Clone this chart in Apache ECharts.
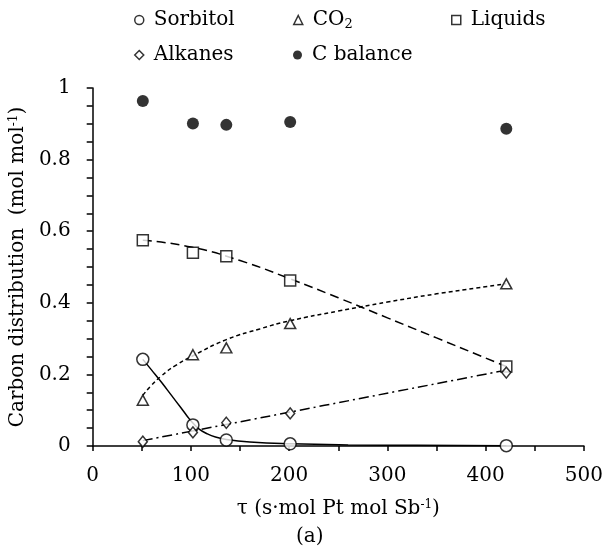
<!DOCTYPE html>
<html>
<head>
<meta charset="utf-8">
<script src="https://cdn.jsdelivr.net/npm/echarts@6/dist/echarts.min.js"></script>
<style>
  html, body { margin: 0; padding: 0; background: #fff; }
  #chart { width: 606px; height: 558px; }
</style>
</head>
<body>
<div id="chart"></div>
<script>
// Residence time (s·mol Pt / mol Sb) of the measured points
const tauValues = [51, 102, 136, 201, 421];

// Carbon distribution (mol/mol) per product group
const sorbitol = [0.242, 0.059, 0.017, 0.006, 0.001];
const co2      = [0.128, 0.255, 0.274, 0.342, 0.453];
const liquids  = [0.575, 0.540, 0.530, 0.462, 0.222];
const alkanes  = [0.012, 0.038, 0.065, 0.091, 0.205];
const cBalance = [0.964, 0.901, 0.897, 0.905, 0.886];

// Trend curves drawn through the points
const sorbitolTrendTau = [51, 60, 70, 80, 90, 96, 102, 108, 116, 125, 136, 160, 201, 260, 330, 421];
const sorbitolTrend    = [0.242, 0.212, 0.178, 0.142, 0.106, 0.084, 0.064, 0.048, 0.035, 0.025, 0.018, 0.011, 0.006, 0.003, 0.002, 0.001];
const liquidsTrendTau  = [51, 100, 150, 200, 250, 300, 350, 421];
const liquidsTrend     = [0.575, 0.556, 0.518, 0.468, 0.414, 0.358, 0.302, 0.222];
const co2TrendTau      = [51, 60, 70, 85, 102, 136, 170, 201, 250, 300, 350, 421];
const co2Trend         = [0.142, 0.170, 0.196, 0.226, 0.252, 0.297, 0.327, 0.350, 0.377, 0.402, 0.425, 0.453];
const alkanesTrendTau  = [51, 421];
const alkanesTrend     = [0.015, 0.212];

// Axis ticks
const xTicks = { min: 0, max: 500, step: 100 };
const yTicks = { min: 0, max: 1, step: 0.2 };

const FONT = 'DejaVu Serif';
const INK = '#000';

const pairs = (xs, ys) => xs.map((x, i) => [x, ys[i]]);

const openMarker = { color: '#fff', borderColor: INK, borderWidth: 1.5 };

function pointSeries(name, ys, symbol, size, style) {
  return {
    name: name,
    type: 'scatter',
    data: pairs(tauValues, ys),
    symbol: symbol,
    symbolSize: size,
    itemStyle: style,
    z: 5,
    emphasis: { disabled: true }
  };
}

function trendSeries(name, xs, ys, dash) {
  return {
    name: name,
    type: 'line',
    data: pairs(xs, ys),
    smooth: true,
    showSymbol: false,
    symbol: 'none',
    lineStyle: { color: INK, width: 1.5, type: dash },
    z: 2,
    emphasis: { disabled: true }
  };
}

function legendAt(name, icon, style, left, top) {
  return {
    left: left,
    top: top,
    orient: 'horizontal',
    selectedMode: false,
    itemWidth: 9,
    itemHeight: 9,
    data: [{ name: name, icon: icon, itemStyle: style }],
    formatter: n => n === 'CO2' ? '{n|CO}{s|2}' : n,
    textStyle: {
      fontFamily: FONT,
      fontSize: 20,
      color: INK,
      padding: [0, 0, 0, 5],
      rich: {
        n: { fontFamily: FONT, fontSize: 20, color: INK },
        s: { fontFamily: FONT, fontSize: 13, color: INK, padding: [9, 0, 0, 0] }
      }
    }
  };
}

const chart = echarts.init(document.getElementById('chart'), null, { renderer: 'canvas' });

chart.setOption({
  animation: false,
  backgroundColor: '#fff',
  grid: { left: 92, right: 22, top: 88, bottom: 112, containLabel: false },
  title: {
    text: '(a)',
    left: 291,
    top: 522,
    textStyle: { fontFamily: FONT, fontSize: 20, fontWeight: 'normal', color: INK }
  },
  legend: [
    legendAt('Sorbitol', 'circle', { color: '#fff', borderColor: INK, borderWidth: 1.5 }, 129, 5),
    legendAt('CO2', 'triangle', { color: '#fff', borderColor: INK, borderWidth: 1.5 }, 288, 5),
    legendAt('Liquids', 'rect', { color: '#fff', borderColor: INK, borderWidth: 1.5 }, 446, 5),
    legendAt('Alkanes', 'diamond', { color: '#fff', borderColor: INK, borderWidth: 1.5 }, 129, 40),
    legendAt('C balance', 'circle', { color: INK, borderWidth: 0 }, 288, 40)
  ],
  xAxis: {
    type: 'value',
    min: xTicks.min,
    max: xTicks.max,
    interval: xTicks.step,
    name: 'τ (s·mol Pt mol Sb{sup|-1})',
    nameLocation: 'middle',
    nameGap: 53,
    nameTextStyle: {
      fontFamily: FONT, fontSize: 20, color: INK,
      rich: { sup: { fontFamily: FONT, fontSize: 12, color: INK, verticalAlign: 'top' } }
    },
    axisLine: { show: true, onZero: false, lineStyle: { color: INK, width: 1.5 } },
    axisTick: { show: true, inside: false, length: 5, lineStyle: { color: INK, width: 1.5 } },
    minorTick: { show: true, splitNumber: 2, length: 5, lineStyle: { color: INK, width: 1.5 } },
    splitLine: { show: false },
    axisLabel: { fontFamily: FONT, fontSize: 20, color: INK, margin: 20 }
  },
  yAxis: {
    type: 'value',
    min: yTicks.min,
    max: yTicks.max,
    interval: yTicks.step,
    name: 'Carbon distribution  (mol mol{sup|-1})',
    nameLocation: 'middle',
    nameGap: 57,
    nameTextStyle: {
      fontFamily: FONT, fontSize: 20, color: INK,
      rich: { sup: { fontFamily: FONT, fontSize: 12, color: INK, verticalAlign: 'top' } }
    },
    axisLine: { show: true, onZero: false, lineStyle: { color: INK, width: 1.5 } },
    axisTick: { show: true, inside: false, length: 6, lineStyle: { color: INK, width: 1.5 } },
    minorTick: { show: true, splitNumber: 4, length: 6, lineStyle: { color: INK, width: 1.5 } },
    splitLine: { show: false },
    axisLabel: { fontFamily: FONT, fontSize: 20, color: INK, margin: 22 }
  },
  series: [
    trendSeries('Sorbitol trend', sorbitolTrendTau, sorbitolTrend, 'solid'),
    trendSeries('Liquids trend', liquidsTrendTau, liquidsTrend, [9, 5]),
    trendSeries('CO2 trend', co2TrendTau, co2Trend, [4, 3]),
    trendSeries('Alkanes trend', alkanesTrendTau, alkanesTrend, [10, 4, 2, 4]),
    pointSeries('Sorbitol', sorbitol, 'circle', 12, openMarker),
    pointSeries('CO2', co2, 'triangle', [11, 10], openMarker),
    pointSeries('Liquids', liquids, 'rect', 11, openMarker),
    pointSeries('Alkanes', alkanes, 'diamond', [9, 11], openMarker),
    pointSeries('C balance', cBalance, 'circle', 12, { color: INK })
  ]
});
</script>
</body>
</html>
